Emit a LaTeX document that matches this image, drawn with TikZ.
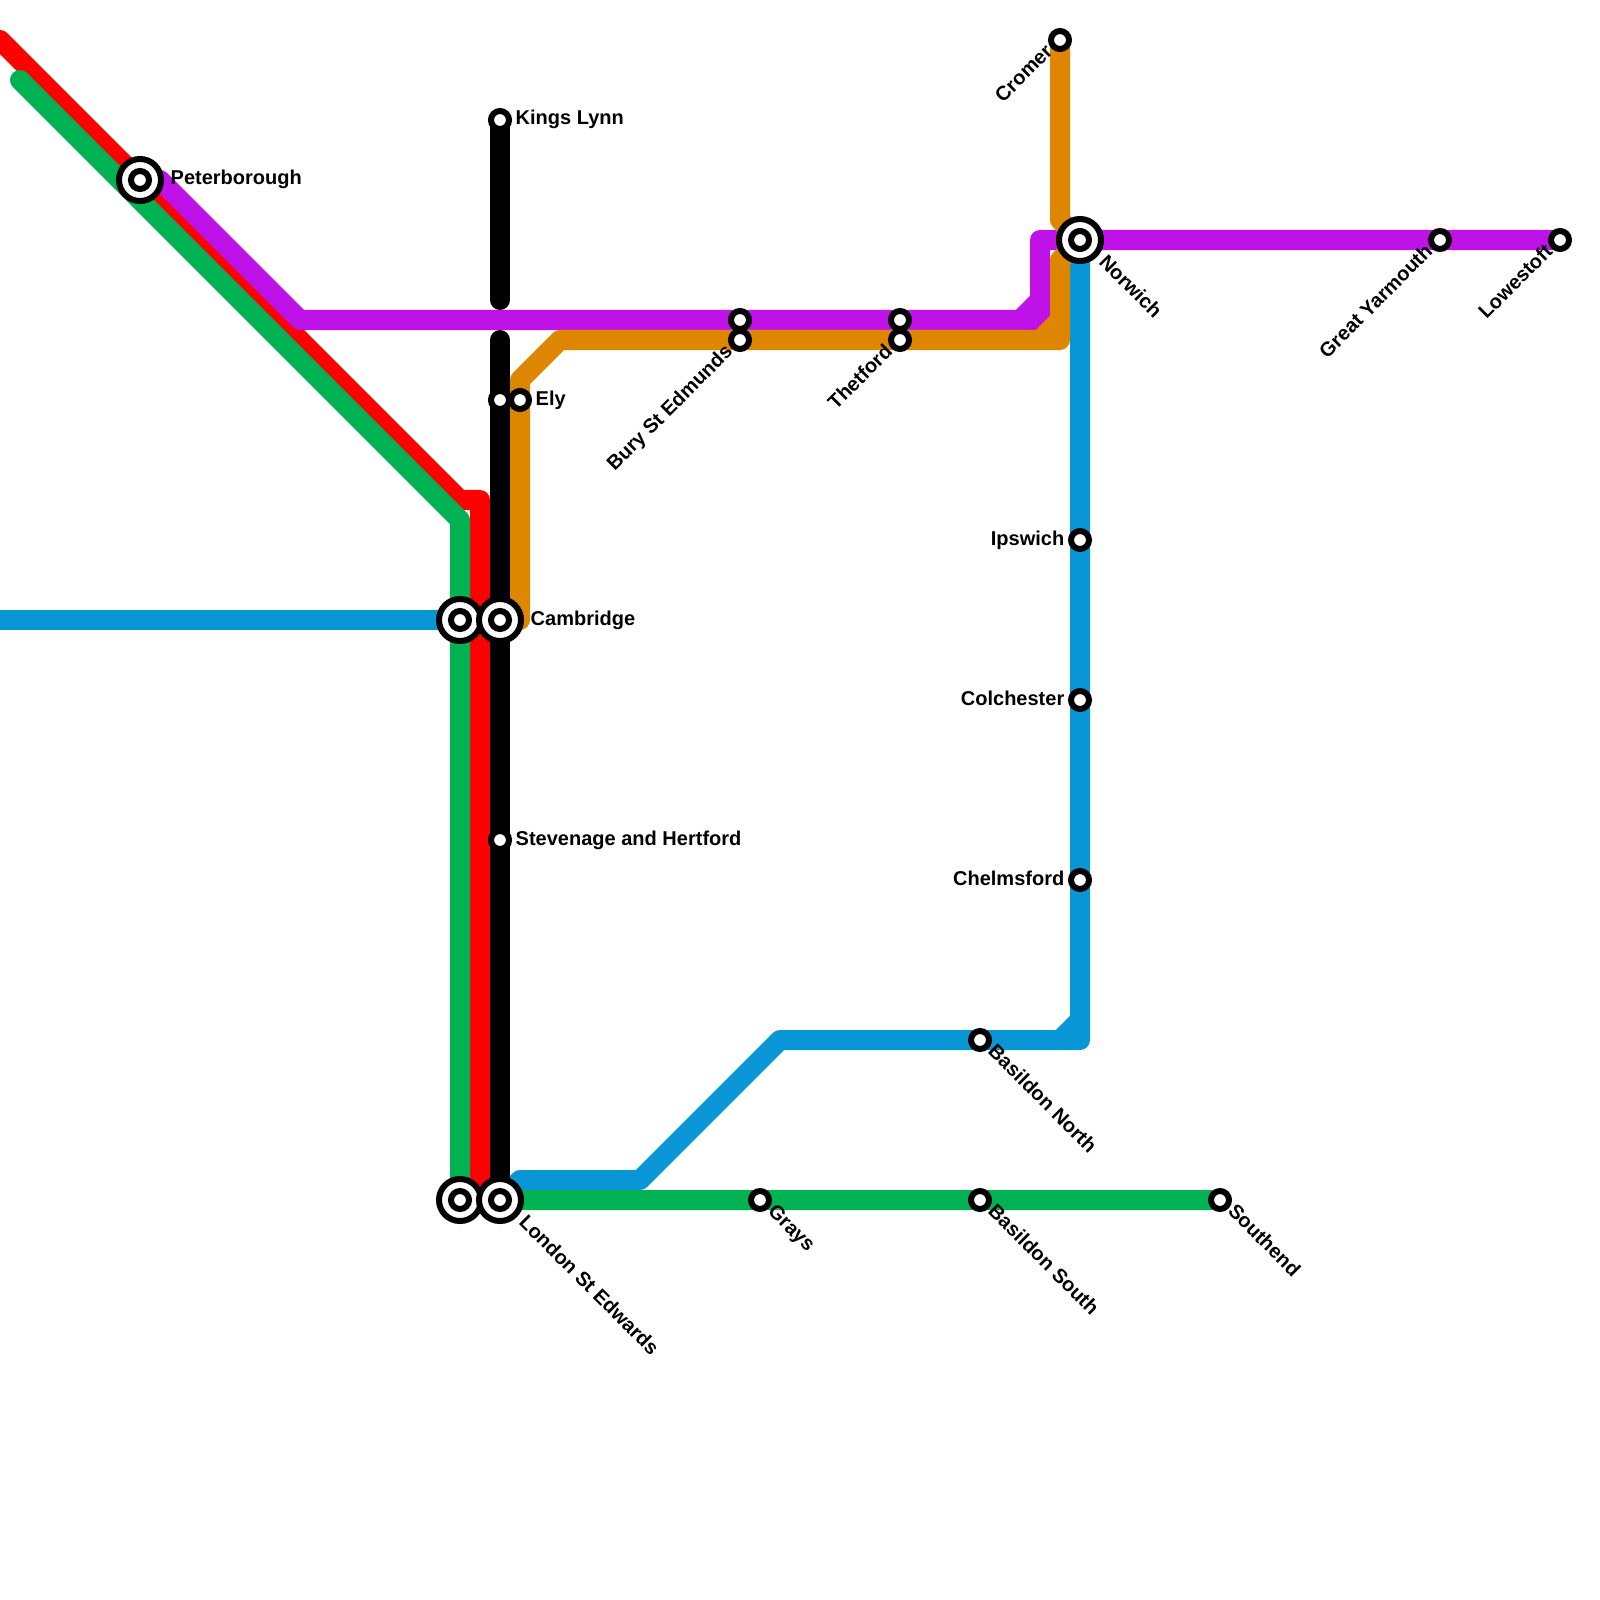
\documentclass[tikz,border=0pt]{standalone}
\usepackage{fontspec}
\setmainfont{Liberation Sans}
\usepackage{xcolor}
\usepackage{tikz}
\usetikzlibrary{positioning}
\definecolor{myred}{RGB}{255,0,0}
\definecolor{mygreen}{RGB}{0,178,81}
\definecolor{mypurple}{RGB}{191,18,230}
\definecolor{myorange}{RGB}{223,134,0}
\definecolor{myblue}{RGB}{8,150,215}
\tikzset{
  railline/.style={line width=0.2cm, line join=round, line cap=round},
  stop/.style={circle, draw=black, fill=white, line width=0.06cm, minimum size=0.18cm, inner sep=0pt},
  hubring/.style={circle, draw=black, fill=white, line width=0.06cm, minimum size=0.42cm, inner sep=0pt},
  lbl/.style={font=\fontsize{5.69}{7}\selectfont\bfseries, inner sep=0pt},
  lbleast/.style={lbl, anchor=base west, shift={(#1,5)}},
  lblwest/.style={lbl, anchor=base east, shift={(-15,5)}},
  lblse/.style={lbl, shift={(6.5,12)}, rotate=-45, anchor=base west},
  lblsehub/.style={lbl, shift={(17.5,23)}, rotate=-45, anchor=base west},
  lblsw/.style={lbl, shift={(-6,12.5)}, rotate=45, anchor=base east}
}
\begin{document}
\begin{tikzpicture}[x=0.01cm, y=-0.01cm]
  \useasboundingbox (0,0) rectangle (1600,1600);
  \clip (0,0) rectangle (1600,1600);

  % line bends
  \coordinate (redstart) at (0,40);
  \coordinate (redbend) at (460,500);
  \coordinate (redtop) at (480,500);
  \coordinate (redend) at (480,1200);
  \coordinate (greenstart) at (20,80);
  \coordinate (greenbend) at (460,520);
  \coordinate (purpstart) at (160,180);
  \coordinate (purpbend) at (300,320);
  \coordinate (purpcorner) at (1040,320);
  \coordinate (purptop) at (1040,240);
  \coordinate (purpcuta) at (1040,300);
  \coordinate (purpcutb) at (1020,320);
  \coordinate (orgcromer) at (1060,220);
  \coordinate (orgnorwich) at (1060,260);
  \coordinate (orgcorner) at (1060,340);
  \coordinate (orgcuta) at (1060,320);
  \coordinate (orgcutb) at (1040,340);
  \coordinate (orgbenda) at (560,340);
  \coordinate (orgbendb) at (520,380);
  \coordinate (orgend) at (520,620);
  \coordinate (blackupper) at (500,300);
  \coordinate (blacklower) at (500,340);
  \coordinate (bluewest) at (0,620);
  \coordinate (bluecorner) at (1080,1040);
  \coordinate (bluecuta) at (1080,1020);
  \coordinate (bluecutb) at (1060,1040);
  \coordinate (bluebenda) at (780,1040);
  \coordinate (bluebendb) at (640,1180);
  \coordinate (bluebendc) at (520,1180);

  % stations
  \coordinate (peterborough) at (140,180);
  \coordinate (kingslynn) at (500,120);
  \coordinate (elyblack) at (500,400);
  \coordinate (ely) at (520,400);
  \coordinate (camwest) at (460,620);
  \coordinate (cambridge) at (500,620);
  \coordinate (stevenage) at (500,840);
  \coordinate (lonwest) at (460,1200);
  \coordinate (london) at (500,1200);
  \coordinate (burya) at (740,320);
  \coordinate (buryb) at (740,340);
  \coordinate (thetforda) at (900,320);
  \coordinate (thetfordb) at (900,340);
  \coordinate (cromer) at (1060,40);
  \coordinate (norwich) at (1080,240);
  \coordinate (yarmouth) at (1440,240);
  \coordinate (lowestoft) at (1560,240);
  \coordinate (ipswich) at (1080,540);
  \coordinate (colchester) at (1080,700);
  \coordinate (chelmsford) at (1080,880);
  \coordinate (basnorth) at (980,1040);
  \coordinate (bassouth) at (980,1200);
  \coordinate (grays) at (760,1200);
  \coordinate (southend) at (1220,1200);

  % lines
  \draw[railline, myblue] (bluewest) -- (camwest);
  \draw[railline, myblue] (norwich) -- (bluecorner) -- (bluebenda) -- (bluebendb) -- (bluebendc) -- (london);
  \draw[railline, myblue] (bluecuta) -- (bluecutb);
  \draw[railline, myred] (redstart) -- (redbend) -- (redtop) -- (redend);
  \draw[railline, mygreen] (greenstart) -- (greenbend) -- (lonwest) -- (southend);
  \draw[railline, black] (kingslynn) -- (blackupper);
  \draw[railline, black] (blacklower) -- (london);
  \draw[railline, mypurple] (purpstart) -- (purpbend) -- (purpcorner) -- (purptop) -- (lowestoft);
  \draw[railline, mypurple] (purpcuta) -- (purpcutb);
  \draw[railline, myorange] (cromer) -- (orgcromer) -- (norwich) -- (orgnorwich) -- (orgcorner) -- (orgbenda) -- (orgbendb) -- (orgend);
  \draw[railline, myorange] (orgcuta) -- (orgcutb);
  \draw[railline, mygreen] (london) -- (southend);

  % station marks
  \node[hubring] (peterboroughring) at (peterborough) {};
  \node[stop] (peterboroughdot) at (peterborough) {};
  \node[stop] (kingslynndot) at (kingslynn) {};
  \node[stop] (elyblackdot) at (elyblack) {};
  \node[stop] (elydot) at (ely) {};
  \node[hubring] (camwestring) at (camwest) {};
  \node[stop] (camwestdot) at (camwest) {};
  \node[hubring] (cambridgering) at (cambridge) {};
  \node[stop] (cambridgedot) at (cambridge) {};
  \node[stop] (stevenagedot) at (stevenage) {};
  \node[hubring] (lonwestring) at (lonwest) {};
  \node[stop] (lonwestdot) at (lonwest) {};
  \node[hubring] (londonring) at (london) {};
  \node[stop] (londondot) at (london) {};
  \node[stop] (buryadot) at (burya) {};
  \node[stop] (burybdot) at (buryb) {};
  \node[stop] (thetfordadot) at (thetforda) {};
  \node[stop] (thetfordbdot) at (thetfordb) {};
  \node[stop] (cromerdot) at (cromer) {};
  \node[hubring] (norwichring) at (norwich) {};
  \node[stop] (norwichdot) at (norwich) {};
  \node[stop] (yarmouthdot) at (yarmouth) {};
  \node[stop] (lowestoftdot) at (lowestoft) {};
  \node[stop] (ipswichdot) at (ipswich) {};
  \node[stop] (colchesterdot) at (colchester) {};
  \node[stop] (chelmsforddot) at (chelmsford) {};
  \node[stop] (basnorthdot) at (basnorth) {};
  \node[stop] (bassouthdot) at (bassouth) {};
  \node[stop] (graysdot) at (grays) {};
  \node[stop] (southenddot) at (southend) {};

  % labels
  \node[lbleast=30] (peterboroughlbl) at (peterborough) {Peterborough};
  \node[lbleast=15] (kingslynnlbl) at (kingslynn) {Kings Lynn};
  \node[lbleast=15] (elylbl) at (ely) {Ely};
  \node[lbleast=30] (cambridgelbl) at (cambridge) {Cambridge};
  \node[lbleast=15] (stevenagelbl) at (stevenage) {Stevenage and Hertford};
  \node[lblwest] (ipswichlbl) at (ipswich) {Ipswich};
  \node[lblwest] (colchesterlbl) at (colchester) {Colchester};
  \node[lblwest] (chelmsfordlbl) at (chelmsford) {Chelmsford};
  \node[lblsw] (cromerlbl) at (cromer) {Cromer};
  \node[lblsw] (burylbl) at (buryb) {Bury St Edmunds};
  \node[lblsw] (thetfordlbl) at (thetfordb) {Thetford};
  \node[lblsw] (yarmouthlbl) at (yarmouth) {Great Yarmouth};
  \node[lblsw] (lowestoftlbl) at (lowestoft) {Lowestoft};
  \node[lblsehub] (norwichlbl) at (norwich) {Norwich};
  \node[lblsehub] (londonlbl) at (london) {London St Edwards};
  \node[lblse] (basnorthlbl) at (basnorth) {Basildon North};
  \node[lblse] (bassouthlbl) at (bassouth) {Basildon South};
  \node[lblse] (grayslbl) at (grays) {Grays};
  \node[lblse] (southendlbl) at (southend) {Southend};
\end{tikzpicture}
\end{document}
